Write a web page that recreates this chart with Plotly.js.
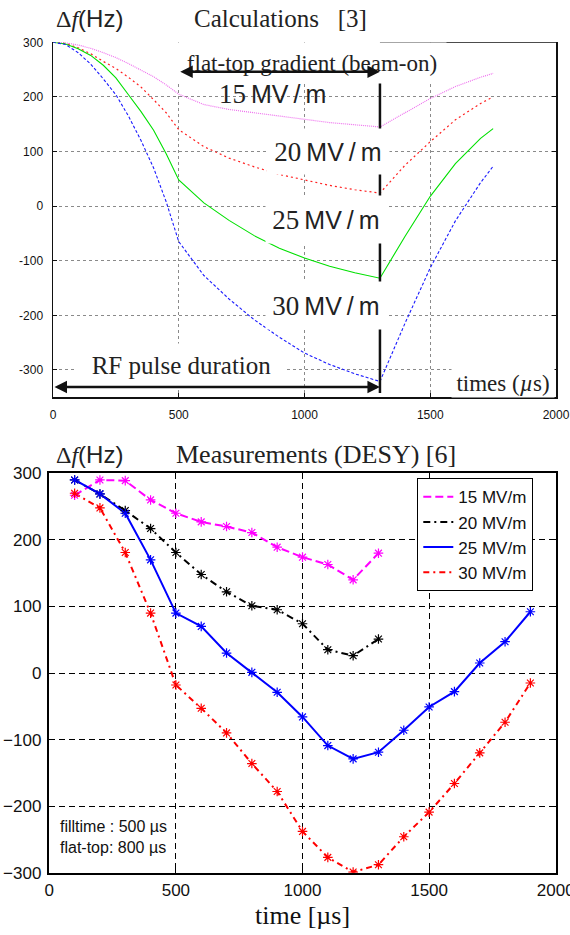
<!DOCTYPE html>
<html>
<head>
<meta charset="utf-8">
<script src="https://cdn.plot.ly/plotly-3.0.1.min.js"></script>
<style>html,body{margin:0;padding:0;background:#fff;}</style>
</head>
<body>
<div id="chart" style="width:570px;height:935px;"></div>
<script>
// ---- Calculations (top panel) ----
const calcTime = [0,50,100,150,200,250,300,350,400,450,500,600,700,800,900,1000,1100,1200,1300,1400,1500,1600,1700,1750];
const calc15 = [300,299,295,289,281,272,261,249,237,222,205,186,177,171,165,158,153,149,145,171,197,219,236,243];
const calc20 = [300,298,290,279,265,252,236,218,195,171,140,109,88,72,58,48,38,30,24,75,118,158,188,200];
const calc25 = [300,297,288,276,258,235,204,173,139,96,48,6,-26,-54,-77,-95,-110,-122,-132,-55,18,78,124,142];
const calc30 = [300,296,281,260,233,204,165,120,70,8,-65,-127,-170,-208,-240,-269,-290,-307,-321,-214,-113,-27,43,73];

// ---- Measurements (bottom panel) ----
const measTimeShort = [100,200,300,400,500,600,700,800,900,1000,1100,1200,1300];
const measTimeLong = [100,200,300,400,500,600,700,800,900,1000,1100,1200,1300,1400,1500,1600,1700,1800,1900];
const meas15 = [267,290,289,260,240,227,220,211,189,174,163,140,180];
const meas20 = [290,269,244,217,181,148,122,101,95,74,35,26,51];
const meas25 = [290,269,240,170,90,70,30,1,-29,-66,-109,-129,-119,-86,-51,-28,15,47,92];
const meas30 = [270,248,181,90,-18,-53,-90,-136,-178,-238,-277,-299,-288,-246,-209,-166,-120,-74,-15];

const seriesNames = ['15 MV/m','20 MV/m','25 MV/m','30 MV/m'];
const xTicks = [0,500,1000,1500,2000];
const yTicksTop = [-300,-200,-100,0,100,200,300];
const yTickTextTop = ['-300','-200','-100','0','100','200','300'];
const yTicksBottom = [-300,-200,-100,0,100,200,300];

const serif = 'Liberation Serif';
const sans = 'Liberation Sans';

const traces = [];
// top
traces.push({x:calcTime,y:calc15,xaxis:'x',yaxis:'y',mode:'lines',showlegend:false,line:{color:'#ee70ee',width:1.2,dash:'1px,1px'}});
traces.push({x:calcTime,y:calc20,xaxis:'x',yaxis:'y',mode:'lines',showlegend:false,line:{color:'#ff2020',width:1.2,dash:'2px,3px'}});
traces.push({x:calcTime,y:calc25,xaxis:'x',yaxis:'y',mode:'lines',showlegend:false,line:{color:'#00e000',width:1.1}});
traces.push({x:calcTime,y:calc30,xaxis:'x',yaxis:'y',mode:'lines',showlegend:false,line:{color:'#1a1aff',width:1.1,dash:'3px,2px'}});

// bottom
const mSeries = [
  {x:measTimeShort,y:meas15,color:'#ff00ff',dash:'8px,4px'},
  {x:measTimeShort,y:meas20,color:'#000000',dash:'7px,4px,2px,4px'},
  {x:measTimeLong,y:meas25,color:'#0000ff',dash:'solid'},
  {x:measTimeLong,y:meas30,color:'#ff0000',dash:'6px,4px,2px,4px'}
];
mSeries.forEach((s,i)=>{
  traces.push({x:s.x,y:s.y,xaxis:'x2',yaxis:'y2',mode:'lines',name:seriesNames[i],showlegend:true,
    line:{color:s.color,width:2,dash:s.dash}});
});
mSeries.forEach((s,i)=>{
  traces.push({x:s.x,y:s.y,xaxis:'x2',yaxis:'y2',mode:'markers',showlegend:false,
    marker:{symbol:'asterisk-open',size:8,color:s.color,line:{color:s.color,width:1.2}}});
});

function px(X){return X/570;}
function py(Y){return 1-Y/935;}
function lbl(X,Y,text,font,extra){
  return Object.assign({xref:'paper',yref:'paper',x:px(X),y:py(Y),xanchor:'center',yanchor:'middle',
    showarrow:false,text:text,font:font},extra||{});
}
function mv(d){
  return '<span style="font-family:Liberation Serif;font-size:27px">'+d+'</span>\u2009MV\u2009/\u2009m';
}
const labFont = {family:sans,size:25,color:'#222'};

const annotations = [
  // top panel
  lbl(89,18,'Δ<i>f</i><span style="font-family:Liberation Sans">(Hz)</span>',{family:serif,size:24,color:'#222'}),
  lbl(280,18,'Calculations&nbsp;&nbsp;&nbsp;[3]',{family:serif,size:25,color:'#222'}),
  lbl(312,63,'flat-top gradient (beam-on)',{family:serif,size:23,color:'#222'},{width:266,height:38,bgcolor:'white'}),
  lbl(272,94,mv('15'),labFont),
  lbl(328,151.5,mv('20'),labFont,{width:120,height:43,bgcolor:'white'}),
  lbl(326,219.5,mv('25'),labFont,{width:118,height:45,bgcolor:'white'}),
  lbl(326,305.5,mv('30'),labFont,{width:118,height:45,bgcolor:'white'}),
  lbl(181.5,365,'RF pulse duration',{family:serif,size:25,color:'#222'},{width:207,height:40,bgcolor:'white'}),
  lbl(503,383,'times (<i>µ</i>s)',{family:serif,size:23,color:'#222'},{width:100,height:26,bgcolor:'white'}),
  // arrows (data coords)
  {xref:'x',yref:'y',axref:'x',ayref:'y',x:1300,y:246,ax:500,ay:246,text:'',showarrow:true,
   arrowside:'end+start',arrowhead:2,arrowsize:1,arrowwidth:2.5,arrowcolor:'#111',standoff:0,startstandoff:0},
  {xref:'x',yref:'y',axref:'x',ayref:'y',x:1300,y:-331,ax:0,ay:-331,text:'',showarrow:true,
   arrowside:'end+start',arrowhead:2,arrowsize:1,arrowwidth:2.5,arrowcolor:'#111',standoff:0,startstandoff:0},
  // bottom panel
  lbl(89,455,'Δ<i>f</i><span style="font-family:Liberation Sans">(Hz)</span>',{family:serif,size:24,color:'#222'}),
  lbl(316,455,'Measurements (DESY) [6]',{family:serif,size:26,color:'#222'}),
  lbl(302,915,'time [µs]',{family:serif,size:26,color:'#111'}),
  {xref:'paper',yref:'paper',x:px(56),y:py(814),xanchor:'left',yanchor:'top',showarrow:false,align:'left',
   bgcolor:'white',borderpad:3,
   text:'filltime : 500 µs<br>flat-top: 800 µs',font:{family:sans,size:16,color:'#111'}}
];

const shapes = [
  {type:'line',xref:'x',yref:'y',x0:1300,x1:1300,y0:227,y1:-342,line:{color:'#111',width:2.5}},
  {type:'line',xref:'x',yref:'y',x0:1300,x1:2000,y0:300,y1:300,line:{color:'#111',width:1.5}}
];

const layout = {
  width:570,height:935,margin:{l:0,r:0,t:0,b:0},
  paper_bgcolor:'white',plot_bgcolor:'white',
  showlegend:true,
  legend:{x:px(417),y:py(478),xanchor:'left',yanchor:'top',bgcolor:'white',bordercolor:'black',borderwidth:1.3,
    font:{family:sans,size:17,color:'#111'},tracegroupgap:0,itemwidth:30},
  xaxis:{domain:[53/570,556/570],anchor:'y',range:[0,2000],tickvals:xTicks,ticks:'inside',ticklen:4,tickcolor:'#111',
    showgrid:true,gridcolor:'#8a8a8a',griddash:'dot',gridwidth:1,showline:true,linecolor:'#111',linewidth:1.5,
    zeroline:false,tickfont:{family:sans,size:12,color:'#111'},ticklabelstandoff:6,ticklabeloverflow:'allow'},
  yaxis:{domain:[1-397.3/935,1-42.3/935],anchor:'x',range:[-350,300],tickvals:yTicksTop,ticktext:yTickTextTop,
    ticks:'inside',ticklen:4,tickcolor:'#111',mirror:'ticks',showgrid:true,gridcolor:'#8a8a8a',griddash:'dot',gridwidth:1,
    showline:true,linecolor:'#111',linewidth:1.5,zeroline:false,tickfont:{family:sans,size:12,color:'#111'},ticklabelstandoff:6},
  xaxis2:{domain:[49.3/570,555.7/570],anchor:'y2',range:[0,2000],tickvals:xTicks,ticks:'inside',ticklen:6,tickcolor:'#000',
    mirror:'ticks',showgrid:true,gridcolor:'#000',griddash:'6px,4px',gridwidth:1,showline:true,linecolor:'#000',linewidth:2.5,
    zeroline:false,tickfont:{family:sans,size:17,color:'#111'},ticklabelstandoff:0,ticklabeloverflow:'allow'},
  yaxis2:{domain:[1-872.7/935,1-473.3/935],anchor:'x2',range:[-300,300],tickvals:yTicksBottom,ticks:'inside',ticklen:6,tickcolor:'#000',
    mirror:'ticks',showgrid:true,gridcolor:'#000',griddash:'6px,4px',gridwidth:1,showline:true,linecolor:'#000',linewidth:2.5,
    zeroline:false,tickfont:{family:sans,size:17,color:'#111'},ticklabelstandoff:2},
  annotations:annotations,
  shapes:shapes
};

Plotly.newPlot('chart',traces,layout,{displayModeBar:false,staticPlot:true});
</script>
</body>
</html>
